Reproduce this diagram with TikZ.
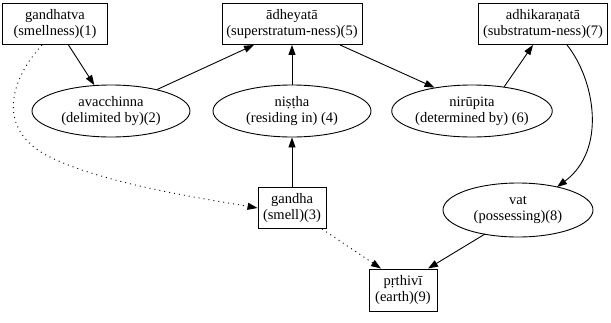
\documentclass[tikz,border=0pt]{standalone}
\usepackage{fontspec}
\setmainfont{Liberation Serif}
\usetikzlibrary{arrows.meta,calc,shapes.geometric}
\begin{document}
\begin{tikzpicture}[x=1pt,y=-1pt,
  concept/.style={draw, line width=0.9pt, align=center, inner sep=0pt,
    font=\fontsize{14.5}{16}\selectfont},
  box/.style={concept, rectangle, minimum height=41pt},
  oval/.style={concept, ellipse, minimum width=158pt, minimum height=52pt},
  link/.style={line width=0.9pt, -{Triangle[length=10pt,width=7pt]}},
  weaklink/.style={link, dash pattern=on 1pt off 4pt}]
\useasboundingbox (0,0) rectangle (611,322);

% nodes
\node[box, minimum width=105pt] (n1) at (55,24) {gandhatva\\(smellness)(1)};
\node[box, minimum width=140pt] (n5) at (292,24) {ādheyatā\\(superstratum-ness)(5)};
\node[box, minimum width=129pt] (n7) at (543,24) {adhikaraṇatā\\(substratum-ness)(7)};
\node[oval] (n2) at (111,111) {avacchinna\\(delimited by)(2)};
\node[oval] (n4) at (292,111) {niṣṭha\\(residing in) (4)};
\node[oval] (n6) at (472,111) {nirūpita\\(determined by) (6)};
\node[box, minimum width=68pt] (n3) at (292,208) {gandha\\(smell)(3)};
\node[oval, minimum width=150pt, minimum height=54pt] (n8) at (518,210) {vat\\(possessing)(8)};
\node[box, minimum width=68pt, minimum height=42pt] (n9) at (403,290) {pṛthivī\\(earth)(9)};

% connectors
\draw[link] (n1) -- (n2);
\draw[link] (n2.25) -- ($(n5.south)+(-38,0)$);
\draw[link] (n4) -- (n5);
\draw[link] (n3) -- (n4);
\draw[link] ($(n5.south)+(48,0)$) -- (n6.148);
\draw[link] (n6.37) -- ($(n7.south)+(-10,0)$);
\draw[link] ($(n7.south)+(24,0)$) .. controls (595,80) and (607,150) .. ($(n8.center)+(39,-23)$);
\draw[link] ($(n8.center)+(-33,24)$) -- ($(n9.north)+(25,0)$);
\draw[weaklink] ($(n3.south)+(30,0)$) -- ($(n9.north)+(-22,0)$);
\draw[weaklink] ($(n1.south)+(-13,0)$) .. controls (10,80) and (-5,130) .. (50,157)
  .. controls (105,184) and (200,198) .. (n3.west);
\end{tikzpicture}
\end{document}
